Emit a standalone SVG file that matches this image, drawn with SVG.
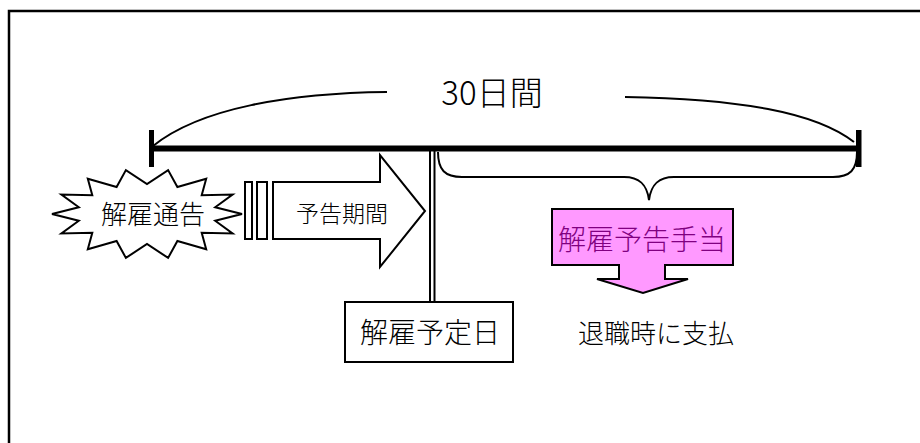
<svg xmlns="http://www.w3.org/2000/svg" width="920" height="443" viewBox="0 0 920 443">
<style>
text{font-family:"Noto Sans CJK JP","Noto Sans",sans-serif;font-weight:300;fill:#000;text-anchor:middle}
.sh{fill:#fff;stroke:#000;stroke-width:2;stroke-linejoin:miter}
.ln{fill:none;stroke:#000;stroke-width:2}
</style>
<rect width="920" height="443" fill="#fff"/>
<path d="M9,443 V11 H920" fill="none" stroke="#000" stroke-width="2.5"/>
<g id="timeline">
<line x1="151" y1="148.5" x2="859" y2="148.5" stroke="#000" stroke-width="6"/>
<rect x="149" y="130" width="5" height="37" fill="#000"/>
<rect x="856" y="130" width="5.5" height="37" fill="#000"/>
</g>
<g id="span30">
<path class="ln" d="M153,146 C200,108 290,93 387,92"/>
<path class="ln" d="M625,97 C740,99 815,112 854,142"/>
<text x="492" y="105" font-size="33">30日間</text>
</g>
<g id="connectors">
<line x1="430" y1="151" x2="430" y2="302" stroke="#000" stroke-width="2"/>
<line x1="434.5" y1="151" x2="434.5" y2="302" stroke="#000" stroke-width="2"/>
<path class="ln" d="M438,152 C438,170 445,177 462,177 H624 C640,177 647,185 649,200 C651,185 658,177 674,177 H833 C850,177 857,170 857,152"/>
</g>
<g id="notice">
<polygon class="sh" points="242,214 215.2,220.7 232.6,233.5 201.7,232.7 206.2,249.2 177.4,241 168.1,257.9 147,244 125.9,257.9 116.6,241 87.8,249.2 92.3,232.7 61.4,233.5 78.8,220.7 52,214 78.8,207.3 61.4,194.5 92.3,195.3 87.8,178.8 116.6,187 125.9,170.1 147,184 168.1,170.1 177.4,187 206.2,178.8 201.7,195.3 232.6,194.5 215.2,207.3"/>
<text x="153" y="224" font-size="26">解雇通告</text>
</g>
<g id="period">
<rect class="sh" x="245" y="182" width="7" height="57" stroke-width="1.8"/>
<rect class="sh" x="257" y="182" width="10" height="57" stroke-width="1.8"/>
<polygon class="sh" points="273,182 380,182 380,155 425,211 380,267 380,239 273,239"/>
<text x="342" y="222" font-size="23">予告期間</text>
</g>
<g id="dismissal-date">
<rect class="sh" x="345" y="302" width="168" height="60"/>
<text x="430" y="343" font-size="28">解雇予定日</text>
</g>
<g id="allowance">
<polygon points="552,209 733,209 733,265 665,265 665,279 688,279 643,293 597,279 619,279 619,265 552,265" fill="#FF99FF" stroke="#000" stroke-width="2"/>
<text x="642" y="250" font-size="28" style="fill:#800080">解雇予告手当</text>
</g>
<g id="payment">
<text x="656" y="343" font-size="26">退職時に支払</text>
</g>
</svg>
